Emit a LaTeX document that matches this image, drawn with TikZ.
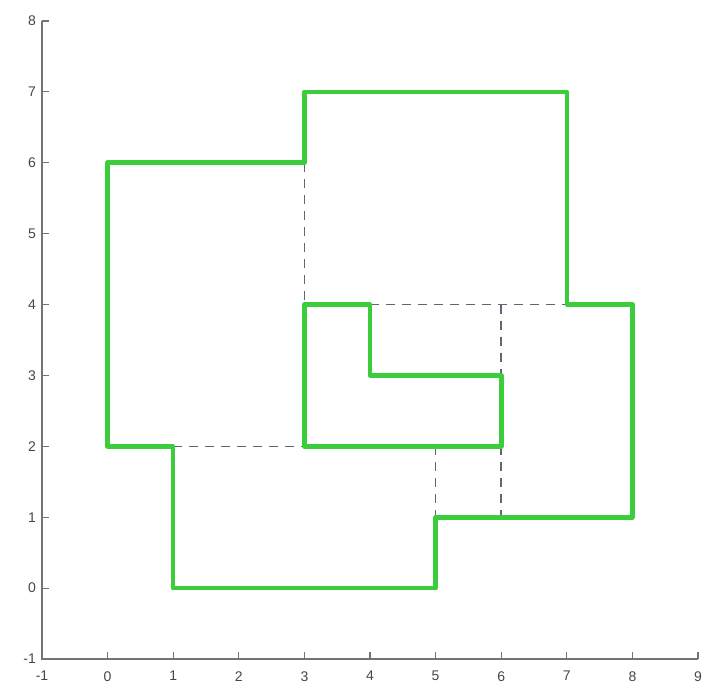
\documentclass[tikz,border=0pt]{standalone}
\usepackage{fontspec}
\setmainfont{Liberation Sans}
\begin{document}
\begin{tikzpicture}[x=65.6pt,y=70.9pt,
  axisline/.style={draw=black!55,line width=1.8pt},
  ticklab/.style={font=\fontsize{14}{14}\selectfont,text=black!72,inner sep=0pt},
  outline/.style={draw={rgb,255:red,60;green,205;blue,60},line width=4.6pt,line join=round,line cap=round},
  hidden/.style={draw={rgb,255:red,100;green,100;blue,118},line width=1.6pt,dash pattern=on 9pt off 7pt}]
\useasboundingbox (-1.640,-1.550) rectangle (9.198,8.295);
% axes
\draw[axisline] (-1,8) -- (-1,-1) -- (9,-1);
\foreach \i in {-1,...,9} {
  \draw[axisline,line width=1.2pt] (\i,-1) -- ++(0,7pt);
  \node[ticklab,anchor=north] (xl\i) at (\i,-1.17) {\i};
}
\foreach \j in {-1,...,8} {
  \draw[axisline,line width=1.2pt] (-1,\j) -- ++(7pt,0);
  \node[ticklab,anchor=east] (yl\j) at (-1.09,\j) {\j};
}
% hidden (dashed) edges
\draw[hidden] (3,6) -- (3,4);
\draw[hidden] (4,4) -- (7,4);
\draw[hidden] (6,4) -- (6,3);
\draw[hidden] (6,2) -- (6,1);
\draw[hidden] (5,2) -- (5,1);
\draw[hidden] (1,2) -- (3,2);
% outer boundary
\draw[outline] (0,6) -- (3,6) -- (3,7) -- (7,7) -- (7,4) -- (8,4) -- (8,1) -- (5,1) -- (5,0) -- (1,0) -- (1,2) -- (0,2) -- cycle;
% inner hole
\draw[outline] (3,4) -- (4,4) -- (4,3) -- (6,3) -- (6,2) -- (3,2) -- cycle;
\end{tikzpicture}
\end{document}
